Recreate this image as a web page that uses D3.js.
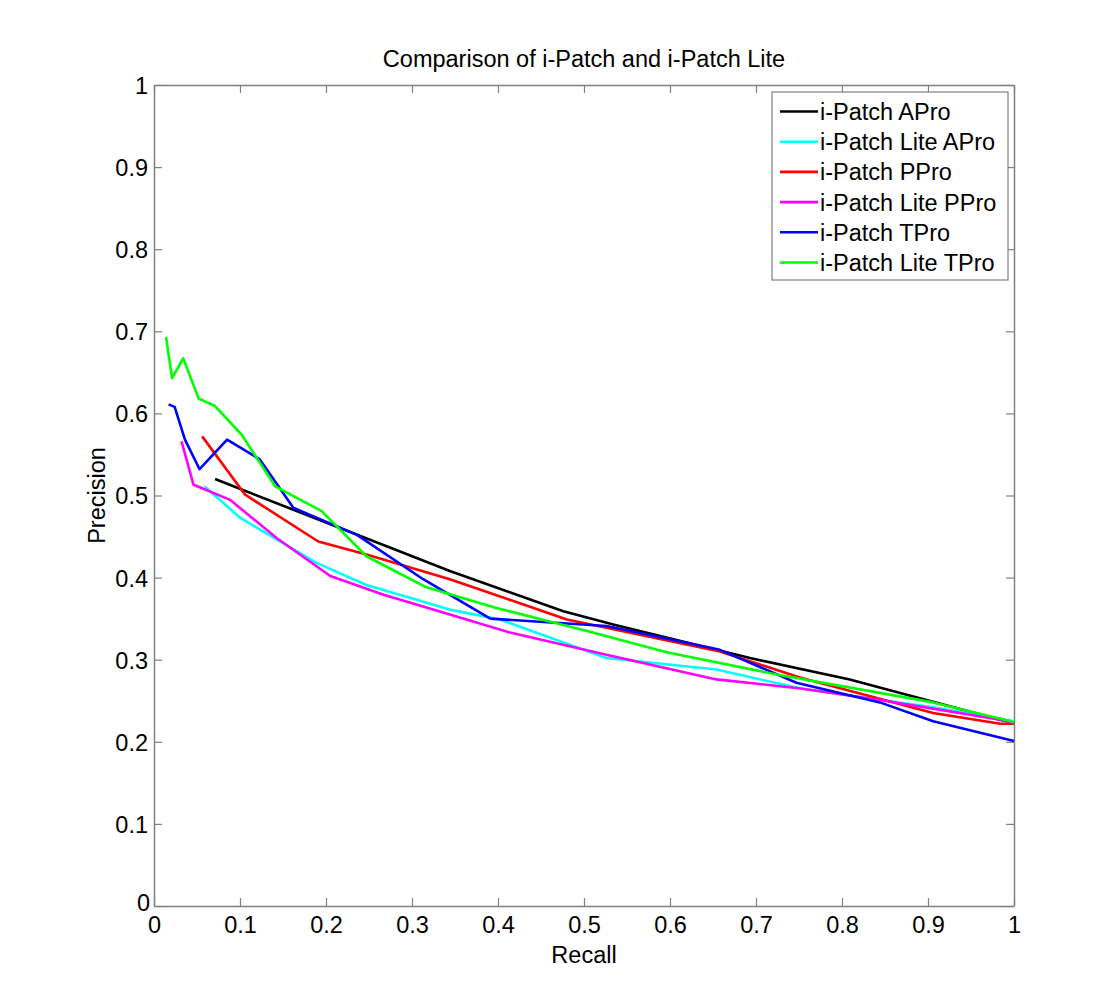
<!DOCTYPE html>
<html>
<head>
<meta charset="utf-8">
<script src="https://d3js.org/d3.v7.min.js"></script>
<style>
body{margin:0;background:#fff;}
text{font-family:"Liberation Sans",Arial,Helvetica,sans-serif;fill:#000;}
</style>
</head>
<body>
<svg id="chart" width="1105" height="1008"></svg>
<script>
const title = "Comparison of i-Patch and i-Patch Lite";
const xLabel = "Recall";
const yLabel = "Precision";
const xTicks = [0,0.1,0.2,0.3,0.4,0.5,0.6,0.7,0.8,0.9,1];
const yTicks = [0,0.1,0.2,0.3,0.4,0.5,0.6,0.7,0.8,0.9,1];
const tickLabels = ["0","0.1","0.2","0.3","0.4","0.5","0.6","0.7","0.8","0.9","1"];

const seriesNames = ["i-Patch APro","i-Patch Lite APro","i-Patch PPro","i-Patch Lite PPro","i-Patch TPro","i-Patch Lite TPro"];
const seriesColors = ["#000000","#00ffff","#ff0000","#ff00ff","#0000ff","#00ff00"];

const aproX = [0.071,0.344,0.476,0.534,0.693,0.809,0.984,1.0];
const aproY = [0.520,0.408,0.359,0.343,0.302,0.276,0.227,0.223];

const liteAproX = [0.059,0.100,0.150,0.189,0.247,0.344,0.402,0.526,0.654,0.752,0.906,1.0];
const liteAproY = [0.511,0.473,0.442,0.418,0.391,0.361,0.349,0.302,0.288,0.265,0.242,0.225];

const pproX = [0.056,0.106,0.191,0.247,0.344,0.480,0.658,0.752,0.906,0.984,1.0];
const pproY = [0.572,0.501,0.444,0.428,0.398,0.349,0.310,0.278,0.235,0.222,0.222];

const litePproX = [0.032,0.046,0.088,0.143,0.205,0.267,0.344,0.414,0.526,0.654,0.752,0.844,0.984,1.0];
const litePproY = [0.566,0.513,0.495,0.448,0.402,0.379,0.355,0.333,0.306,0.276,0.265,0.251,0.227,0.223];

const tproX = [0.017,0.024,0.036,0.053,0.085,0.123,0.162,0.236,0.313,0.391,0.526,0.658,0.747,0.844,0.906,1.0];
const tproY = [0.611,0.608,0.568,0.532,0.568,0.544,0.485,0.452,0.398,0.350,0.341,0.312,0.272,0.248,0.225,0.201];

const liteTproX = [0.014,0.021,0.034,0.052,0.071,0.102,0.141,0.195,0.247,0.315,0.398,0.507,0.596,0.724,0.906,1.0];
const liteTproY = [0.693,0.643,0.667,0.618,0.609,0.574,0.511,0.481,0.426,0.389,0.363,0.334,0.309,0.282,0.248,0.224];

const seriesX = [aproX, liteAproX, pproX, litePproX, tproX, liteTproX];
const seriesY = [aproY, liteAproY, pproY, litePproY, tproY, liteTproY];

const svg = d3.select("#chart");
const L = 154, R = 1014, T = 85, B = 906;
const x = d3.scaleLinear().domain([0,1]).range([L,R]);
const y = d3.scaleLinear().domain([0,1]).range([B,T]);
const axisColor = "#808080";
const fs = 23.5;

const fmt = (d,i) => tickLabels[i];
const gB = svg.append("g").attr("transform",`translate(0,${B})`)
  .call(d3.axisBottom(x).tickValues(xTicks).tickFormat(fmt).tickSizeInner(-8).tickSizeOuter(0));
const gL = svg.append("g").attr("transform",`translate(${L},0)`)
  .call(d3.axisLeft(y).tickValues(yTicks).tickFormat(fmt).tickSizeInner(-8).tickSizeOuter(0));
const gT = svg.append("g").attr("transform",`translate(0,${T})`)
  .call(d3.axisTop(x).tickValues(xTicks).tickFormat("").tickSizeInner(-8).tickSizeOuter(0));
const gR = svg.append("g").attr("transform",`translate(${R},0)`)
  .call(d3.axisRight(y).tickValues(yTicks).tickFormat("").tickSizeInner(-8).tickSizeOuter(0));
[gB,gL,gT,gR].forEach(g=>{
  g.select(".domain").attr("stroke",axisColor).attr("stroke-width",1.5);
  g.selectAll(".tick line").attr("stroke",axisColor).attr("stroke-width",1.2);
  g.selectAll("text").attr("font-size",fs).attr("font-family","Liberation Sans, Arial, sans-serif").attr("fill","#000");
});
gB.selectAll(".tick text").attr("dy",0).attr("y",27);
gL.selectAll(".tick text").attr("x",-6).attr("dy","0.36em");
gL.selectAll(".tick").filter(d=>d===0).select("text").attr("x",-4).attr("dy","0.2em");

const line = d3.line().x(d=>x(d[0])).y(d=>y(d[1]));
const plot = svg.append("g");
seriesNames.forEach((name,i)=>{
  const pts = seriesX[i].map((v,j)=>[v, seriesY[i][j]]);
  plot.append("path").datum(pts).attr("d",line)
    .attr("fill","none").attr("stroke",seriesColors[i]).attr("stroke-width",2.6)
    .attr("stroke-linejoin","round");
});

svg.append("text").attr("x",(L+R)/2).attr("y",67).attr("text-anchor","middle").attr("font-size",fs).text(title);
svg.append("text").attr("x",(L+R)/2).attr("y",963).attr("text-anchor","middle").attr("font-size",fs).text(xLabel);
svg.append("text").attr("transform",`translate(105,${(T+B)/2}) rotate(-90)`).attr("text-anchor","middle").attr("font-size",fs).text(yLabel);

const lg = svg.append("g");
lg.append("rect").attr("x",772).attr("y",92).attr("width",236).attr("height",188)
  .attr("fill","#fff").attr("stroke",axisColor).attr("stroke-width",1.2);
seriesNames.forEach((name,i)=>{
  const cy = 111.5 + i*30.2;
  lg.append("line").attr("x1",780).attr("x2",818).attr("y1",cy).attr("y2",cy)
    .attr("stroke",seriesColors[i]).attr("stroke-width",2.6);
  lg.append("text").attr("x",820).attr("y",cy).attr("dy","0.36em").attr("font-size",fs).text(name);
});
</script>
</body>
</html>
